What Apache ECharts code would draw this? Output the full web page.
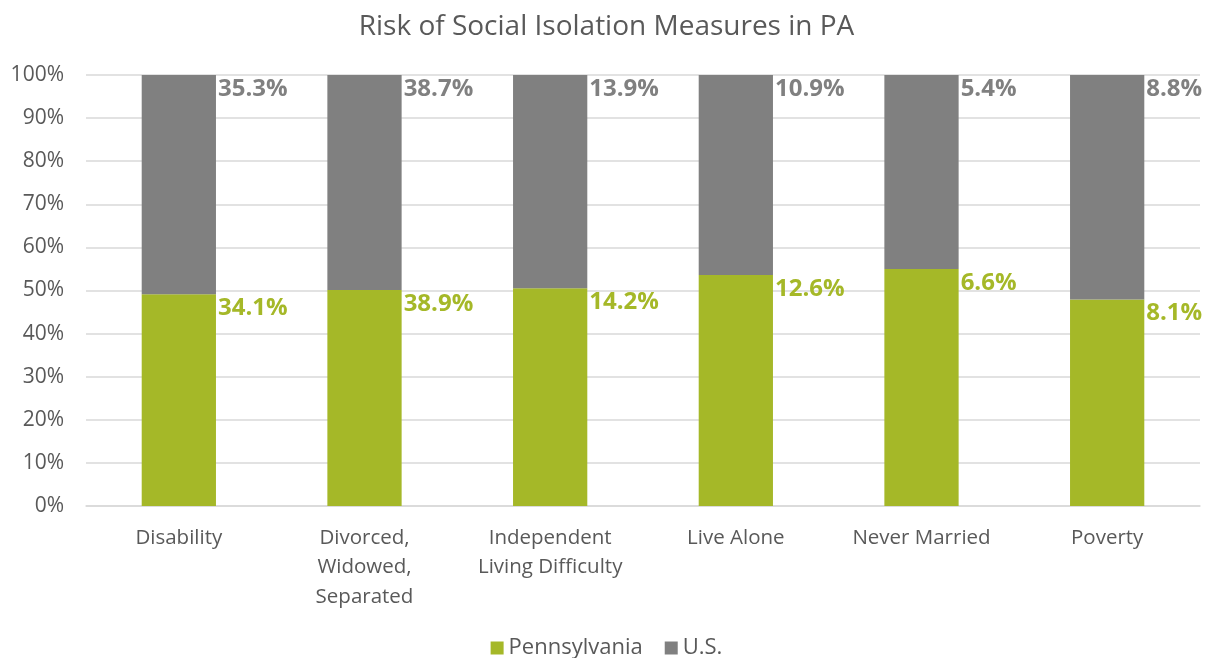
<!DOCTYPE html>
<html>
<head>
<meta charset="utf-8">
<script src="https://cdn.jsdelivr.net/npm/echarts@6/dist/echarts.min.js"></script>
<style>html,body{margin:0;padding:0;background:#fff;}#chart{width:1213px;height:658px;}</style>
</head>
<body>
<div id="chart"></div>
<script>
const categories = ['Disability', 'Divorced,\nWidowed,\nSeparated', 'Independent\nLiving Difficulty', 'Live Alone', 'Never Married', 'Poverty'];
const paValues = [34.1, 38.9, 14.2, 12.6, 6.6, 8.1];
const usValues = [35.3, 38.7, 13.9, 10.9, 5.4, 8.8];
const yTicks = [0, 10, 20, 30, 40, 50, 60, 70, 80, 90, 100];

const paShare = paValues.map((v, i) => v / (v + usValues[i]) * 100);
const usShare = usValues.map((v, i) => v / (paValues[i] + v) * 100);

const FONT = '"Open Sans", "Noto Sans", sans-serif';
const GREEN = '#A5B828';
const GRAY = '#808080';

const chart = echarts.init(document.getElementById('chart'), null, {renderer: 'canvas'});
chart.setOption({
  animation: false,
  title: {
    text: 'Risk of Social Isolation Measures in PA',
    left: 'center', top: 8,
    textStyle: {fontFamily: FONT, fontSize: 28, fontWeight: 'normal', color: '#595959'}
  },
  legend: {
    bottom: -6, left: 'center',
    itemWidth: 13, itemHeight: 13, itemGap: 22,
    icon: 'rect',
    textStyle: {fontFamily: FONT, fontSize: 22, color: '#595959'},
    data: ['Pennsylvania', 'U.S.']
  },
  grid: {left: 86, right: 13, top: 75, bottom: 152, containLabel: false},
  xAxis: {
    type: 'category',
    data: categories,
    axisTick: {show: false},
    axisLine: {lineStyle: {color: '#d9d9d9', width: 1.5}},
    axisLabel: {fontFamily: FONT, fontSize: 20.5, color: '#595959', margin: 17, lineHeight: 29.5, interval: 0}
  },
  yAxis: {
    type: 'value', min: 0, max: 100, interval: 10,
    axisLabel: {fontFamily: FONT, fontSize: 21, color: '#595959', margin: 22,
      formatter: v => yTicks.includes(v) ? v + '%' : ''},
    splitLine: {lineStyle: {color: '#d9d9d9', width: 1.5}},
    axisLine: {show: false}, axisTick: {show: false}
  },
  series: [
    {
      name: 'Pennsylvania', type: 'bar', stack: 'total', barWidth: '40%',
      data: paShare,
      itemStyle: {color: GREEN},
      label: {
        show: true, position: ['100%', 0], offset: [2, 2], align: 'left', verticalAlign: 'top',
        fontFamily: FONT, fontSize: 24, fontWeight: 'bold', color: GREEN,
        formatter: p => paValues[p.dataIndex].toFixed(1) + '%'
      }
    },
    {
      name: 'U.S.', type: 'bar', stack: 'total', barWidth: '40%',
      data: usShare,
      itemStyle: {color: GRAY},
      label: {
        show: true, position: ['100%', 0], offset: [2, 2], align: 'left', verticalAlign: 'top',
        fontFamily: FONT, fontSize: 24, fontWeight: 'bold', color: GRAY,
        formatter: p => usValues[p.dataIndex].toFixed(1) + '%'
      }
    }
  ]
});
</script>
</body>
</html>
